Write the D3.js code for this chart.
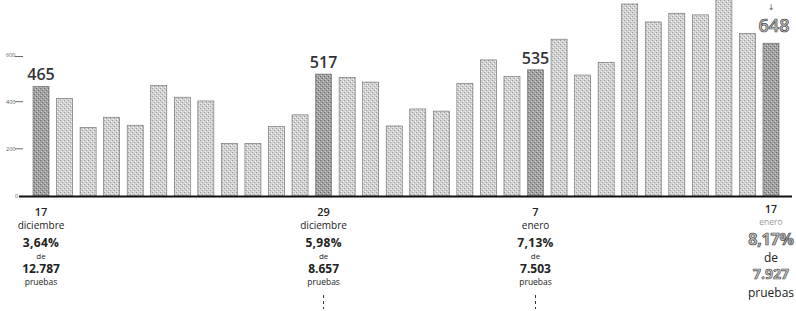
<!DOCTYPE html>
<html>
<head>
<meta charset="utf-8">
<script src="https://cdn.jsdelivr.net/npm/d3@7"></script>
<style>
  body { margin: 0; background: #fff; }
  text { font-family: "Open Sans", "DejaVu Sans", sans-serif; }
</style>
</head>
<body>
<script>
// daily positive cases, 17 dic - 17 ene
const days = [
  '17 dic', '18 dic', '19 dic', '20 dic', '21 dic', '22 dic', '23 dic', '24 dic',
  '25 dic', '26 dic', '27 dic', '28 dic', '29 dic', '30 dic', '31 dic', '1 ene',
  '2 ene', '3 ene', '4 ene', '5 ene', '6 ene', '7 ene', '8 ene', '9 ene',
  '10 ene', '11 ene', '12 ene', '13 ene', '14 ene', '15 ene', '16 ene', '17 ene'
]
const cases = [
  465, 414, 291, 334, 300, 468, 419, 403,
  223, 223, 294, 344, 517, 503, 483, 297,
  369, 360, 478, 577, 506, 535, 665, 513,
  567, 814, 738, 775, 768, 835, 690, 648
]
const yTicks = [0, 200, 400, 600]

// highlighted days
const hlDays = ['17 dic', '29 dic', '7 ene', '17 ene']
const hlDay = ['17', '29', '7', '17']
const hlMonth = ['diciembre', 'diciembre', 'enero', 'enero']
const hlPct = ['3,64%', '5,98%', '7,13%', '8,17%']
const hlTests = ['12.787', '8.657', '7.503', '7.927']

const data = days.map((d, i) => ({ day: d, value: cases[i] }))

const m = { width: 796, height: 311 }

const svg = d3.select('body').append('svg')
  .attr('width', m.width)
  .attr('height', m.height)

// halftone-ish fills
const defs = svg.append('defs')
function screen(id, bg, dot, lite) {
  const p = defs.append('pattern')
    .attr('id', id)
    .attr('width', 4).attr('height', 4)
    .attr('patternUnits', 'userSpaceOnUse')
  p.append('rect').attr('width', 4).attr('height', 4).attr('fill', bg)
  p.append('rect').attr('x', 0).attr('y', 0).attr('width', 1).attr('height', 1).attr('fill', dot)
  p.append('rect').attr('x', 2).attr('y', 2).attr('width', 1).attr('height', 1).attr('fill', dot)
  p.append('rect').attr('x', 3).attr('y', 1).attr('width', 1).attr('height', 1).attr('fill', lite)
  p.append('rect').attr('x', 1).attr('y', 3).attr('width', 1).attr('height', 1).attr('fill', lite)
}
screen('light', '#d2d2d2', '#9a9a9a', '#f4f4f4')
screen('dark', '#a3a3a3', '#666', '#cfcfcf')

const x = d3.scaleBand()
  .domain(days)
  .range([33, 779])
  .paddingInner(0.32)
  .paddingOuter(0)

const y = d3.scaleLinear()
  .domain([0, 600])
  .range([196, 54.5])

// y axis: tiny labels with short dashes
const yAxis = svg.append('g')
yAxis.selectAll('text')
  .data(yTicks)
  .enter()
  .append('text')
  .attr('x', d => d == 0 ? 15 : 6)
  .attr('y', d => y(d) + 2)
  .attr('font-size', 5.5)
  .attr('fill', '#555')
  .text(d => d)
yAxis.selectAll('line')
  .data(yTicks.filter(d => d > 0))
  .enter()
  .append('line')
  .attr('x1', 15).attr('x2', 23)
  .attr('y1', d => d == 600 ? y(d) + 2 : y(d))
  .attr('y2', d => d == 600 ? y(d) + 2 : y(d))
  .attr('stroke', '#444')
  .attr('stroke-width', 0.8)

// bars
svg.append('g').selectAll('rect')
  .data(data)
  .enter()
  .append('rect')
  .attr('x', d => x(d.day))
  .attr('y', d => y(d.value))
  .attr('width', x.bandwidth())
  .attr('height', d => y(0) - y(d.value))
  .attr('fill', d => hlDays.includes(d.day) ? 'url(#dark)' : 'url(#light)')
  .attr('stroke', '#666')
  .attr('stroke-width', 0.6)

// baseline
svg.append('line')
  .attr('x1', 19).attr('x2', 792)
  .attr('y1', y(0) + 0.5).attr('y2', y(0) + 0.5)
  .attr('stroke', '#111')
  .attr('stroke-width', 1.8)

const hl = hlDays.map((d, i) => ({
  day: d, value: cases[days.indexOf(d)], num: hlDay[i], month: hlMonth[i],
  pct: hlPct[i], tests: hlTests[i], last: i == hlDays.length - 1
}))
const cx = d => x(d.day) + x.bandwidth() / 2

// value labels above highlighted bars
svg.append('g').selectAll('text')
  .data(hl)
  .enter()
  .append('text')
  .attr('x', d => d.last ? cx(d) + 3 : cx(d))
  .attr('y', d => d.last ? 32 : y(d.value) - 6)
  .attr('text-anchor', 'middle')
  .attr('font-size', d => d.last ? 18 : 16)
  .attr('font-weight', 600)
  .attr('fill', d => d.last ? '#c4c4c4' : '#333')
  .attr('stroke', d => d.last ? '#444' : 'none')
  .attr('stroke-width', 0.7)
  .text(d => d.value)

// small arrow above the last bar
svg.append('text')
  .attr('x', 771).attr('y', 10)
  .attr('text-anchor', 'middle')
  .attr('font-size', 8)
  .attr('fill', '#555')
  .text('↓')

// date & share labels under the highlighted bars
const lab = svg.append('g').selectAll('g')
  .data(hl)
  .enter()
  .append('g')
  .attr('transform', d => `translate(${cx(d)},0)`)
  .attr('text-anchor', 'middle')
  .attr('fill', '#222')

lab.append('text')
  .attr('y', d => d.last ? 213 : 216)
  .attr('font-size', d => d.last ? 10.5 : 11)
  .attr('font-weight', 600)
  .text(d => d.num)
lab.append('text')
  .attr('y', d => d.last ? 225 : 229)
  .attr('font-size', d => d.last ? 8.5 : 10)
  .attr('fill', d => d.last ? '#999' : '#222')
  .text(d => d.month)
lab.append('text')
  .attr('y', d => d.last ? 245 : 247)
  .attr('font-size', d => d.last ? 16 : 12)
  .attr('font-weight', 700)
  .attr('letter-spacing', d => d.last ? -0.2 : 0.3)
  .attr('fill', d => d.last ? '#c4c4c4' : '#222')
  .attr('stroke', d => d.last ? '#444' : 'none')
  .attr('stroke-width', 0.7)
  .text(d => d.pct)
lab.append('text')
  .attr('y', d => d.last ? 262 : 259)
  .attr('font-size', d => d.last ? 12 : 8)
  .text('de')
lab.append('text')
  .attr('y', d => d.last ? 279 : 273)
  .attr('font-size', d => d.last ? 14 : 12)
  .attr('font-weight', 700)
  .attr('fill', d => d.last ? '#c4c4c4' : '#222')
  .attr('stroke', d => d.last ? '#444' : 'none')
  .attr('stroke-width', 0.6)
  .text(d => d.tests)
lab.append('text')
  .attr('y', d => d.last ? 297 : 285)
  .attr('font-size', d => d.last ? 12 : 8.5)
  .text('pruebas')

// dotted leaders under 29 dic and 7 ene
lab.filter((d, i) => i == 1 || i == 2)
  .append('line')
  .attr('x1', 0).attr('x2', 0)
  .attr('y1', 295).attr('y2', 309)
  .attr('stroke', '#333')
  .attr('stroke-width', 1)
  .attr('stroke-dasharray', '3,3')
</script>
</body>
</html>
